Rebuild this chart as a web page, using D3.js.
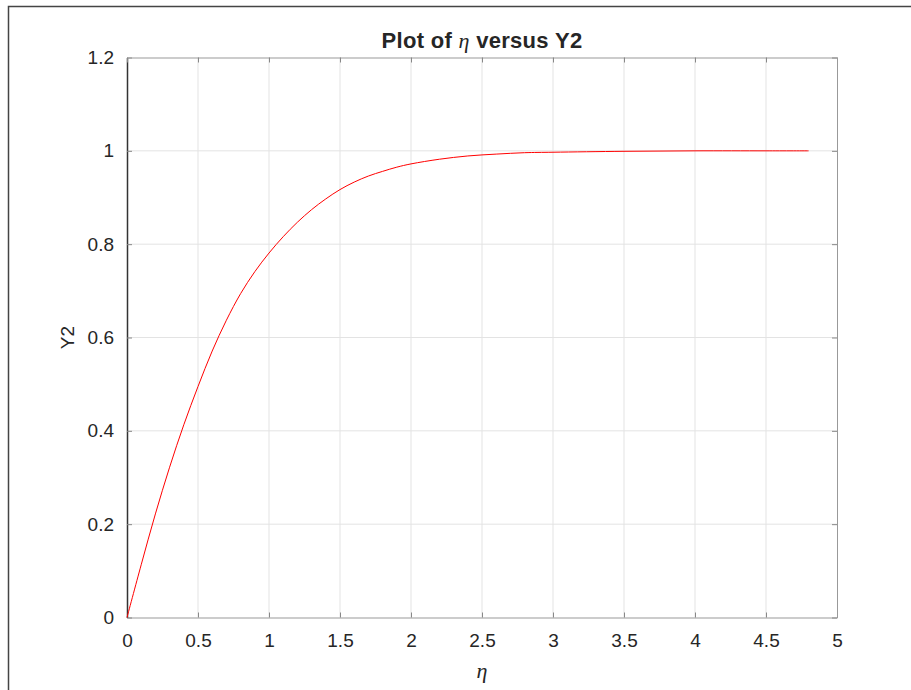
<!DOCTYPE html>
<html lang="en">
<head>
  <meta charset="UTF-8">
  <title>Plot of eta versus Y2</title>
  <script src="https://d3js.org/d3.v7.min.js"></script>
  <style>
    body { margin: 0; background: #fff; }
    text { font-family: "Liberation Sans", Arial, sans-serif; fill: #262626; }
    .tick text { font-size: 19px; }
    .sym { font-family: "Liberation Serif", "DejaVu Serif", serif; font-style: italic; }
  </style>
</head>
<body>
<svg id="canvas" width="911" height="690"></svg>
<script>
  // values
  const etaVals = [0, 0.1, 0.2, 0.3, 0.4, 0.5, 0.6, 0.7, 0.8, 0.9, 1.0,
                   1.1, 1.2, 1.3, 1.4, 1.5, 1.6, 1.7, 1.8, 1.9, 2.0,
                   2.2, 2.4, 2.6, 2.8, 3.0, 3.5, 4.0, 4.5, 4.8];
  const y2Vals = [0, 0.113, 0.222, 0.322, 0.413, 0.495, 0.571, 0.637, 0.694, 0.741, 0.781,
                  0.816, 0.847, 0.874, 0.897, 0.917, 0.933, 0.946, 0.956, 0.965, 0.972,
                  0.982, 0.989, 0.993, 0.996, 0.997, 0.999, 1.0, 1.0, 1.0];
  const xTicks = [0, 0.5, 1, 1.5, 2, 2.5, 3, 3.5, 4, 4.5, 5];
  const yTicks = [0, 0.2, 0.4, 0.6, 0.8, 1, 1.2];

  const svg = d3.select("#canvas");
  const pL = 127, pR = 837, pT = 57.5, pB = 617.5;

  const x = d3.scaleLinear().domain([0, 5]).range([pL, pR]);
  const y = d3.scaleLinear().domain([0, 1.2]).range([pB, pT]);

  // outer frame (only left and top edges show in the picture)
  svg.append("path")
    .attr("d", "M8.5,690 L8.5,6.5 L911,6.5")
    .attr("fill", "none").attr("stroke", "#444").attr("stroke-width", 1.5);

  // grid
  svg.append("g").selectAll("line").data(xTicks.slice(1, -1)).join("line")
    .attr("x1", d => x(d)).attr("x2", d => x(d))
    .attr("y1", pT).attr("y2", pB)
    .attr("stroke", "#e3e3e3").attr("stroke-width", 1);
  svg.append("g").selectAll("line").data(yTicks.slice(1, -1)).join("line")
    .attr("y1", d => y(d)).attr("y2", d => y(d))
    .attr("x1", pL).attr("x2", pR)
    .attr("stroke", "#e3e3e3").attr("stroke-width", 1);

  // axes with inward ticks
  const gx = svg.append("g").attr("transform", "translate(0," + pB + ")")
    .call(d3.axisBottom(x).tickValues(xTicks).tickSizeInner(-5).tickSizeOuter(0).tickPadding(16)
      .tickFormat(d3.format("~g")));
  const gy = svg.append("g").attr("transform", "translate(" + pL + ",0)")
    .call(d3.axisLeft(y).tickValues(yTicks).tickSizeInner(-5).tickSizeOuter(0).tickPadding(13)
      .tickFormat(d3.format("~g")));
  const gxt = svg.append("g").attr("transform", "translate(0," + pT + ")")
    .call(d3.axisTop(x).tickValues(xTicks).tickSizeInner(-5).tickSizeOuter(0).tickFormat(""));
  const gyr = svg.append("g").attr("transform", "translate(" + pR + ",0)")
    .call(d3.axisRight(y).tickValues(yTicks).tickSizeInner(-5).tickSizeOuter(0).tickFormat(""));

  gx.select(".domain").attr("stroke", "#999");
  gxt.select(".domain").attr("stroke", "#999");
  gyr.select(".domain").attr("stroke", "#999");
  gy.select(".domain").attr("stroke", "#333").attr("stroke-width", 1.5);
  svg.selectAll(".tick line").attr("stroke", "#888");
  svg.selectAll(".tick text").attr("fill", "#303030");

  // curve
  const pts = etaVals.map((e, i) => [e, y2Vals[i]]);
  svg.append("path")
    .datum(pts)
    .attr("fill", "none")
    .attr("stroke", "#ff0000")
    .attr("stroke-width", 1)
    .attr("d", d3.line().x(d => x(d[0])).y(d => y(d[1])).curve(d3.curveCatmullRom.alpha(0.5)));

  // title
  const title = svg.append("text")
    .attr("x", (pL + pR) / 2).attr("y", 48)
    .attr("text-anchor", "middle")
    .attr("font-size", 22).attr("font-weight", "bold")
    .attr("letter-spacing", 0.3);
  title.append("tspan").text("Plot of ");
  title.append("tspan").attr("class", "sym").attr("font-weight", "normal").text("η");
  title.append("tspan").text(" versus Y2");

  // axis labels
  svg.append("text").attr("class", "sym")
    .attr("x", (pL + pR) / 2).attr("y", 678)
    .attr("text-anchor", "middle").attr("font-size", 22)
    .text("η");
  svg.append("text")
    .attr("transform", "translate(74," + ((pT + pB) / 2) + ") rotate(-90)")
    .attr("text-anchor", "middle").attr("font-size", 19)
    .text("Y2");
</script>
</body>
</html>
